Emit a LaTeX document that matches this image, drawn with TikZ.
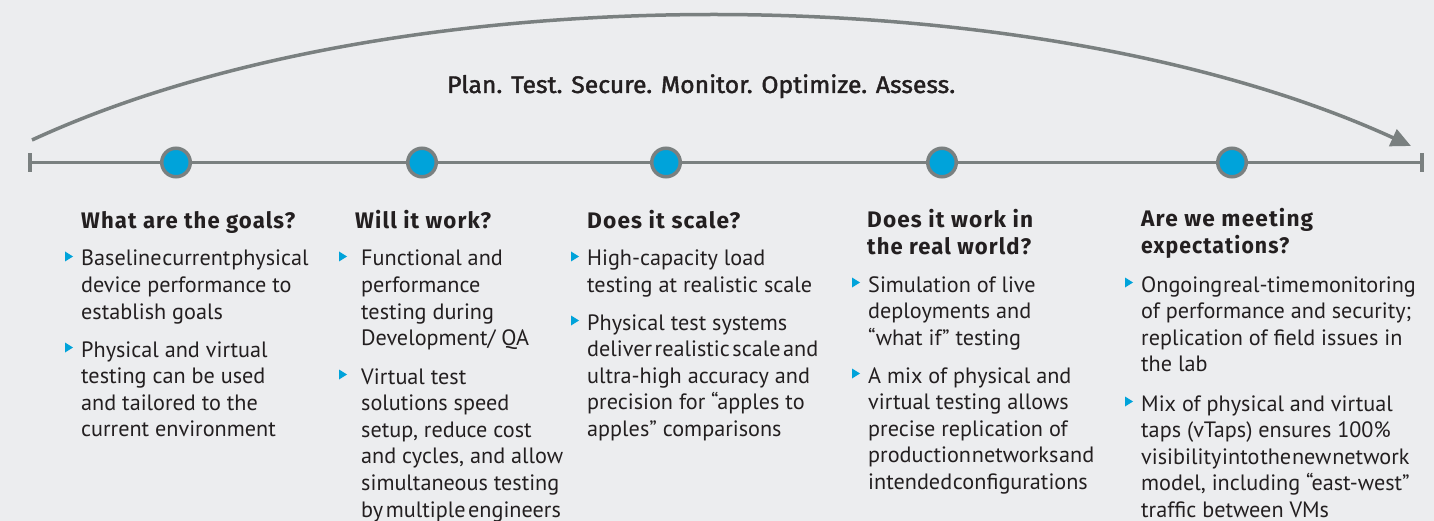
\documentclass[tikz,border=0pt]{standalone}
\usepackage{graphicx}
\usepackage{fontspec}
\setmainfont{PT Sans}
\newfontfamily\headfont[LetterSpace=5]{Fira Sans}
\newfontfamily\titlefont[FakeBold=1.6]{Fira Sans}
\usetikzlibrary{arrows.meta}

\definecolor{paper}{RGB}{236,237,239}
\definecolor{rule}{RGB}{122,128,128}
\definecolor{dot}{RGB}{0,163,218}
\definecolor{ink}{RGB}{35,31,32}

\newcommand\bodysize{\fontsize{22.2bp}{26.6bp}\selectfont}
\newcommand\headsize{\fontsize{22.5bp}{27bp}\selectfont}
% a block of lines whose baseline is that of its first line
\newcommand\lineblock[1]{\vtop{\hsize=340bp\parindent=0pt\parskip=0pt\rightskip=0pt plus 1fil\relax #1}}
% heading line stretched to a given width
\newcommand\headline[2]{\hbox{\resizebox{#1bp}{\height}{#2}}}
% words set with almost no interword space
\newcommand\tight[1]{{\spaceskip=0.8bp\relax #1}}
% words set with narrow interword space
\newcommand\snug[1]{{\spaceskip=2.6bp\relax #1}}
% blue bullet triangle: left x, baseline y
\newcommand\bul[2]{\fill[dot] (#1,{#2-14.5}) -- (#1,{#2-4.5}) -- ({#1+8},{#2-9.5}) -- cycle;}

\begin{document}
\begin{tikzpicture}[x=1bp,y=-1bp,
  rulepath/.style={draw=rule, line width=3.3bp},
  arcpath/.style={draw=rule, line width=3.5bp, -{Triangle[length=20bp,width=18bp]}},
  milestone/.style={circle, draw=rule, line width=3.5bp, fill=dot, minimum size=28.5bp, inner sep=0pt},
  endtick/.style={rectangle, fill=rule, minimum width=3.8bp, minimum height=19bp, inner sep=0pt},
  heading/.style={anchor=base west, inner sep=0pt, text=ink, font=\headsize\headfont\bfseries},
  body/.style={anchor=base west, inner sep=0pt, text=ink, font=\bodysize},
  motto/.style={anchor=base west, inner sep=0pt, text=ink, font=\fontsize{24bp}{24bp}\titlefont}
]
\fill[paper] (0,0) rectangle (1434,521);
\useasboundingbox (0,0) rectangle (1434,521);

% overarching arc
\coordinate (arcL) at (32,140);
\coordinate (arcR) at (1411,146);
\draw[arcpath] (arcL) .. controls (400,-30) and (1040,-24) .. (arcR);
\node[motto] (title) at (447,93) {\resizebox{508bp}{\height}{Plan. Test. Secure. Monitor. Optimize. Assess.}};

% timeline
\node[endtick] (tl) at (30,162.5) {};
\node[endtick] (tr) at (1422,162.5) {};
\node[milestone] (m1) at (176,162.5) {};
\node[milestone] (m2) at (422,162.5) {};
\node[milestone] (m3) at (666,162.5) {};
\node[milestone] (m4) at (942,162.5) {};
\node[milestone] (m5) at (1232,162.5) {};
\draw[rulepath] (tl) -- (m1) -- (m2) -- (m3) -- (m4) -- (m5) -- (tr);

% column 1
\node[heading] (h1) at (81,229) {\lineblock{\headline{214}{What are the goals?}}};
\bul{65}{266}
\node[body] (b1a) at (81,266) {\lineblock{\tight{Baseline current physical}\\device performance to\\establish goals}};
\bul{65}{357}
\node[body] (b1b) at (81,357) {\lineblock{Physical and virtual\\testing can be used\\and tailored to the\\current environment}};

% column 2
\node[heading] (h2) at (355,229) {\lineblock{\headline{136}{Will it work?}}};
\bul{339}{266}
\node[body] (b2a) at (361,266) {\lineblock{Functional and\\performance\\testing during\\Development/ QA}};
\bul{339}{384}
\node[body] (b2b) at (361,384) {\lineblock{Virtual test\\solutions speed\\setup, reduce cost\\and cycles, and allow\\simultaneous testing\\\snug{by multiple engineers}}};

% column 3
\node[heading] (h3) at (587,229) {\lineblock{\headline{153}{Does it scale?}}};
\bul{571}{266}
\node[body] (b3a) at (587,266) {\lineblock{High-capacity load\\testing at realistic scale}};
\bul{571}{330}
\node[body] (b3b) at (587,330) {\lineblock{Physical test systems\\\snug{deliver realistic scale and}\\ultra-high accuracy and\\precision for “apples to\\apples” comparisons}};

% column 4
\node[heading] (h4) at (867,228) {\lineblock{\headline{166}{Does it work in}\headline{164}{the real world?}}};
\bul{852}{292}
\node[body] (b4a) at (868,292) {\lineblock{Simulation of live\\deployments and\\“what if” testing}};
\bul{852}{383}
\node[body] (b4b) at (868,383) {\lineblock{A mix of physical and\\virtual testing allows\\precise replication of\\\tight{production networks and}\\\tight{intended configurations}}};

% column 5
\node[heading] (h5) at (1141,227) {\lineblock{\headline{172}{Are we meeting}\headline{148}{expectations?}}};
\bul{1125}{292}
\node[body] (b5a) at (1141,292) {\lineblock{\tight{Ongoing real-time monitoring}\\of performance and security;\\replication of field issues in\\the lab}};
\bul{1125}{411}
\node[body] (b5b) at (1141,411) {\lineblock{Mix of physical and virtual\\taps (vTaps) ensures 100\%\\\tight{visibility into the new network}\\model, including “east-west”\\traffic between VMs}};
\end{tikzpicture}
\end{document}
